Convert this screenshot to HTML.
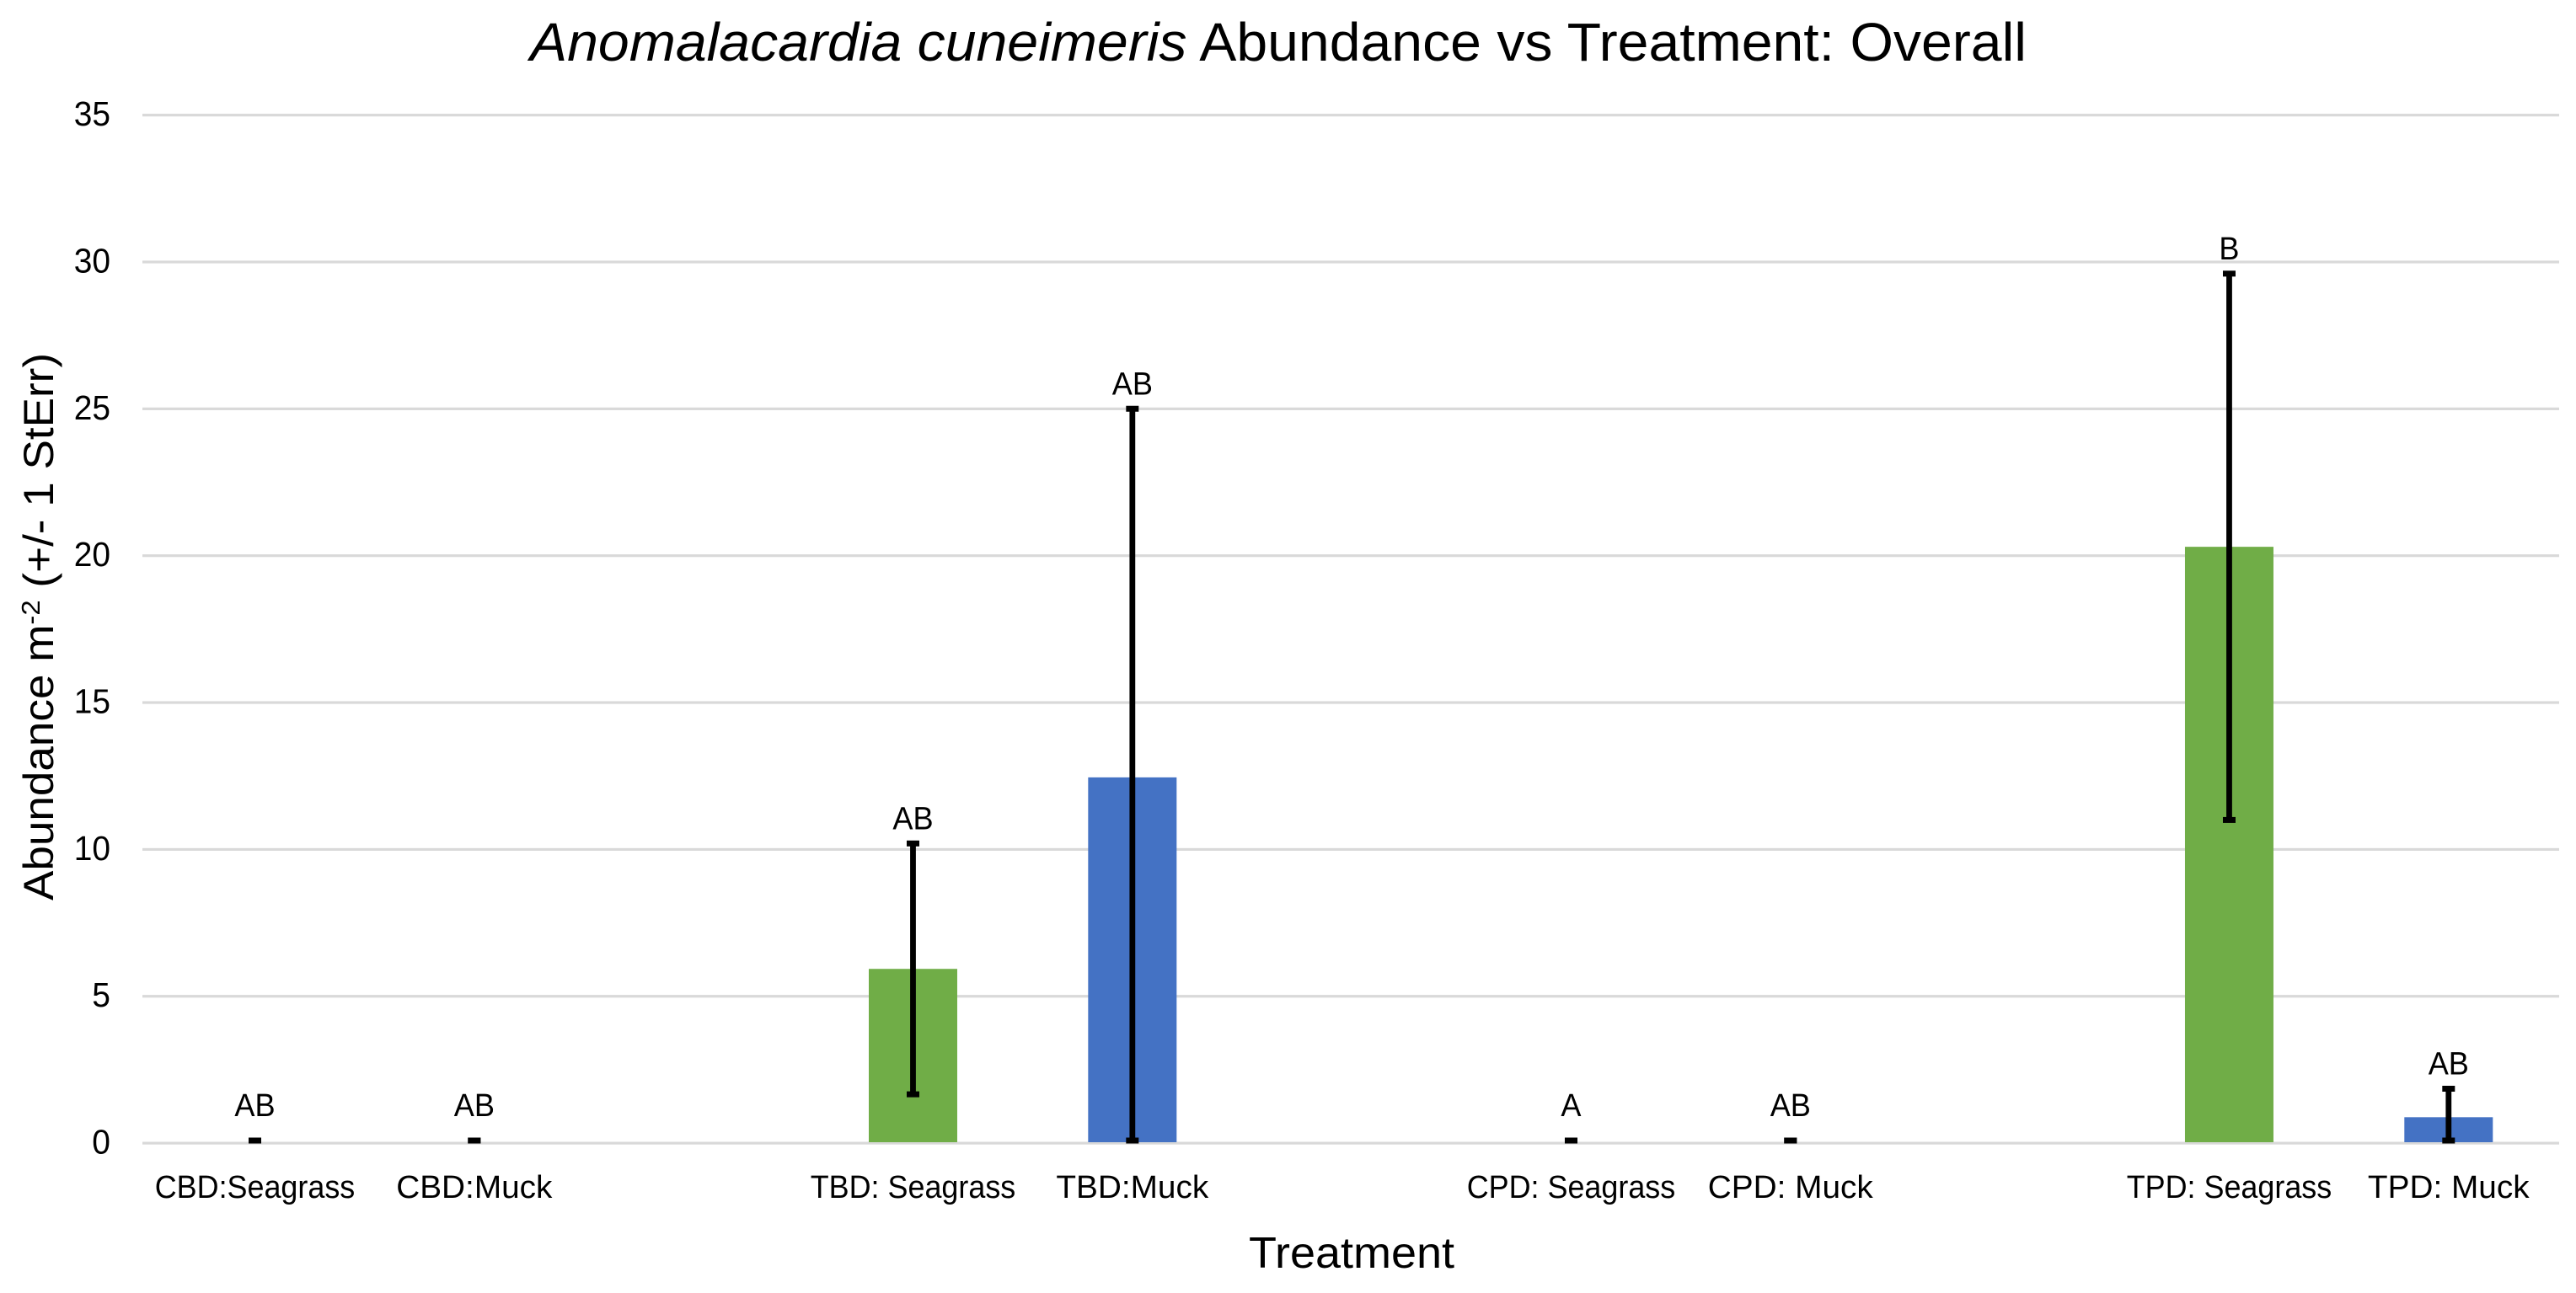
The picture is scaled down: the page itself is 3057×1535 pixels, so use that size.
<!DOCTYPE html>
<html lang="en">
<head>
<meta charset="utf-8">
<title>Anomalacardia cuneimeris Abundance vs Treatment: Overall</title>
<style>
html,body{margin:0;padding:0;background:#fff;}
body{width:3057px;height:1535px;overflow:hidden;}
svg{display:block;}
text{font-family:"Liberation Sans",sans-serif;fill:#000;}
</style>
</head>
<body>
<svg id="chart" xmlns="http://www.w3.org/2000/svg" width="3057" height="1535" viewBox="0 0 3057 1535">
  <rect x="0" y="0" width="3057" height="1535" fill="#ffffff"/>
  <text x="629" y="72" font-size="64" textLength="1776" lengthAdjust="spacingAndGlyphs"><tspan font-style="italic">Anomalacardia cuneimeris</tspan> Abundance vs Treatment: Overall</text>
  <text transform="translate(63,1069) rotate(-90)" x="0" y="0" font-size="50" fill="#1a1a1a" textLength="650" lengthAdjust="spacingAndGlyphs">Abundance m<tspan font-size="31" dy="-16">-2</tspan><tspan dy="16"> (+/- 1 StErr)</tspan></text>
  <text x="1482" y="1505" font-size="52" textLength="244" lengthAdjust="spacingAndGlyphs">Treatment</text>
  <g id="grid"></g>
  <g id="bars"></g>
  <g id="errors"></g>
  <g id="letters"></g>
  <g id="yticks"></g>
  <g id="xticks"></g>
</svg>
<script>
const categories = ["CBD:Seagrass", "CBD:Muck", "", "TBD: Seagrass", "TBD:Muck", "", "CPD: Seagrass", "CPD: Muck", "", "TPD: Seagrass", "TPD: Muck"];
const habitats = ["seagrass", "muck", "", "seagrass", "muck", "", "seagrass", "muck", "", "seagrass", "muck"];
const means = [0, 0, null, 5.93, 12.45, null, 0, 0, null, 20.3, 0.88];
const stdErrs = [0, 0, null, 4.27, 12.55, null, 0, 0, null, 9.3, 0.97];
const letters = ["AB", "AB", "", "AB", "AB", "", "A", "AB", "", "B", "AB"];
const yTicks = [0, 5, 10, 15, 20, 25, 30, 35];

const NS = "http://www.w3.org/2000/svg";
const plot = { left: 169, right: 3037, zeroY: 1357, unit: 34.87, firstX: 302.5, stepX: 260.33, barW: 105 };
const habitatColor = { seagrass: "#70AD47", muck: "#4472C4" };
const labelSqueeze = { seagrass: 0.945, muck: 1.02 };

function xScale(i) { return plot.firstX + i * plot.stepX; }
function yScale(v) { return plot.zeroY - v * plot.unit; }

function make(tag, parentId, attrs) {
  const el = document.createElementNS(NS, tag);
  for (const k in attrs) el.setAttribute(k, attrs[k]);
  document.getElementById(parentId).appendChild(el);
  return el;
}

function squeeze(el, factor) {
  const w = el.getComputedTextLength();
  el.setAttribute("textLength", (w * factor).toFixed(1));
  el.setAttribute("lengthAdjust", "spacingAndGlyphs");
}

yTicks.forEach(function (t) {
  const line = make("rect", "grid", { x: plot.left, y: yScale(t) - 1.5, width: plot.right - plot.left, height: 3.2, fill: "#d9d9d9" });
  
  

  const label = make("text", "yticks", { x: 131, y: yScale(t) + 12.5, "font-size": 41, "text-anchor": "end" });
  label.textContent = String(t);
  squeeze(label, 0.95);
  
  
});

categories.forEach(function (name, i) {
  if (name === "") return;
  const cx = xScale(i);
  const m = means[i];
  const e = stdErrs[i];

  if (m > 0) {
    const bar = make("rect", "bars", { x: cx - plot.barW / 2, y: yScale(m), width: plot.barW, height: yScale(0) - 1 - yScale(m), fill: habitatColor[habitats[i]] });
    
    
  }

  const capFloor = yScale(0) - 3;
  const hiY = Math.min(yScale(m + e), capFloor);
  const loY = Math.min(yScale(Math.max(m - e, 0)), capFloor);

  if (e > 0) {
    const stem = make("rect", "errors", { x: cx - 3.4, y: hiY, width: 6.8, height: loY - hiY, fill: "#000" });
    
    
  }

  const capTop = make("rect", "errors", { x: cx - 7.5, y: hiY - 3.5, width: 15, height: 7, fill: "#000" });
  
  

  const capBottom = make("rect", "errors", { x: cx - 7.5, y: loY - 3.5, width: 15, height: 7, fill: "#000" });
  
  

  const letter = make("text", "letters", { x: cx, y: hiY - (e > 0 ? 17 : 29), "font-size": 38, "text-anchor": "middle" });
  letter.textContent = letters[i];
  squeeze(letter, 0.95);
  
  

  const tick = make("text", "xticks", { x: cx, y: 1422, "font-size": 38, "text-anchor": "middle" });
  tick.textContent = name;
  squeeze(tick, labelSqueeze[habitats[i]]);
  
  
});
</script>
</body>
</html>
